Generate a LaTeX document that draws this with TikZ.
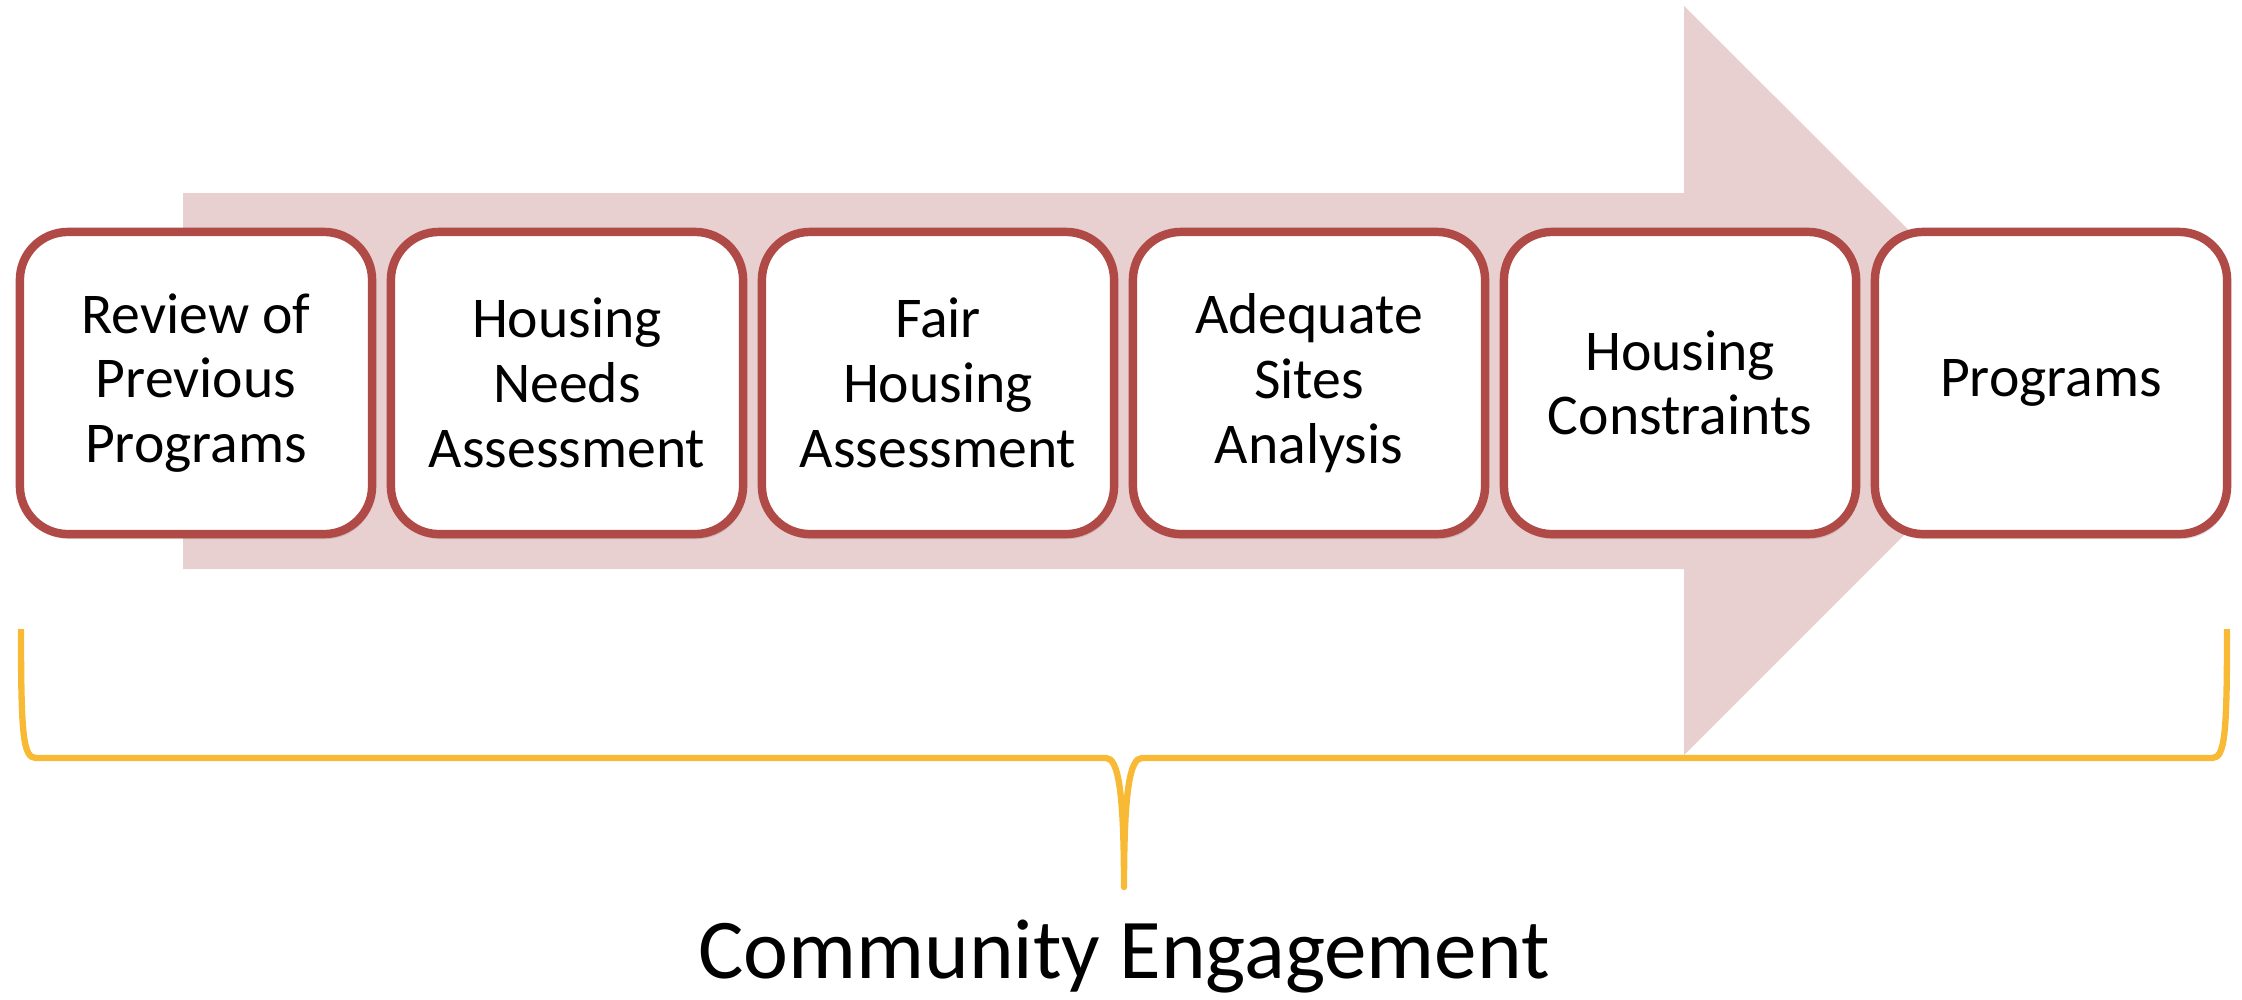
\documentclass[tikz,border=0pt]{standalone}
\usepackage{fontspec}
\setmainfont{Carlito}
\usetikzlibrary{shadows}
\definecolor{arrowc}{HTML}{E8CFD0}
\definecolor{boxc}{HTML}{B04A47}
\definecolor{bracec}{HTML}{F8B935}
\tikzset{
  stepbox/.style={draw=boxc, line width=2.4pt, fill=white, rounded corners=0.48cm,
    minimum width=3.52cm, minimum height=3.02cm, align=center, inner sep=0pt,
    font=\fontsize{16.4}{18.4}\selectfont,
    drop shadow={opacity=0.25, shadow xshift=0.02cm, shadow yshift=-0.05cm}},
  bracestyle/.style={draw=bracec, line width=1.8pt, line join=round}
}
\begin{document}
\begin{tikzpicture}[x=0.01cm, y=-0.01cm]
\useasboundingbox (0,0) rectangle (2242,999);
% big arrow
\fill[arrowc] (183,193) -- (1684,193) -- (1684,6) -- (2059,380) -- (1684,755) -- (1684,569) -- (183,569) -- cycle;
% boxes
\node[stepbox] (b1) at (196,383) {Review of\\Previous\\Programs};
\node[stepbox] (b2) at (567,383) {Housing\\Needs\\Assessment};
\node[stepbox] (b3) at (938,383) {Fair\\Housing\\Assessment};
\node[stepbox] (b4) at (1309,383) {Adequate\\Sites\\Analysis};
\node[stepbox] (b5) at (1680,383) {Housing\\Constraints};
\node[stepbox] (b6) at (2051,383) {Programs};
% brace
\coordinate (bl) at (21,629);
\coordinate (br) at (2227,629);
\coordinate (bc) at (1124,887);
\draw[bracestyle] (bl) .. controls (21,735) and (23,758) .. (36,758)
  -- (1106,758) .. controls (1118,758) and (1124,790) .. (bc)
  .. controls (1124,790) and (1130,758) .. (1142,758)
  -- (2212,758) .. controls (2225,758) and (2227,735) .. (br);
\node[font=\fontsize{24.2}{28}\selectfont, anchor=base] (ce) at (1124,978) {Community Engagement};
\end{tikzpicture}
\end{document}
